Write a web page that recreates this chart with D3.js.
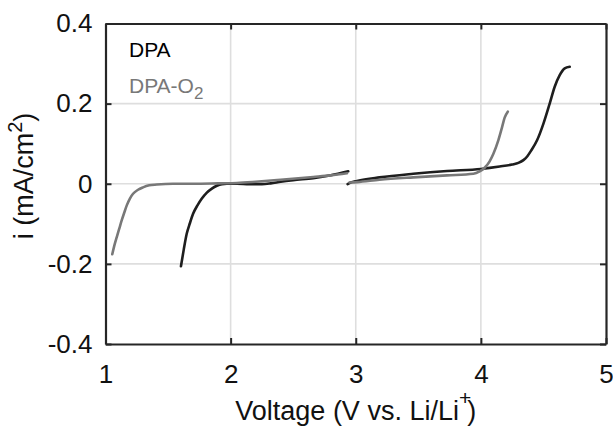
<!DOCTYPE html>
<html>
<head>
<meta charset="utf-8">
<script src="https://cdn.jsdelivr.net/npm/d3@7"></script>
<style>
  body { margin: 0; background: #fff; }
  text { font-family: "Liberation Sans", Arial, sans-serif; }
</style>
</head>
<body>
<div class="chart"></div>
<script>
"use strict";

// tick values / labels
var xTicks = [1, 2, 3, 4, 5];
var xTickLabels = ["1", "2", "3", "4", "5"];
var yTicks = [-0.4, -0.2, 0, 0.2, 0.4];
var yTickLabels = ["-0.4", "-0.2", "0", "0.2", "0.4"];

// DPA, cathodic branch (V, mA/cm2)
var dpaV1 = [1.603, 1.625, 1.649, 1.675, 1.70, 1.735, 1.77, 1.81, 1.85, 1.89, 1.93, 1.97, 2.05, 2.15, 2.25, 2.32, 2.4, 2.5, 2.66, 2.8, 2.94];
var dpaI1 = [-0.206, -0.165, -0.125, -0.098, -0.075, -0.054, -0.037, -0.022, -0.012, -0.005, -0.001, 0.0, 0.0, -0.001, -0.001, 0.001, 0.005, 0.009, 0.014, 0.021, 0.031];
// DPA, anodic branch
var dpaV2 = [2.935, 2.96, 3.01, 3.19, 3.46, 3.73, 4.0, 4.15, 4.25, 4.3, 4.34, 4.37, 4.40, 4.45, 4.50, 4.55, 4.59, 4.63, 4.67, 4.71];
var dpaI2 = [-0.001, 0.003, 0.007, 0.016, 0.025, 0.032, 0.037, 0.043, 0.048, 0.052, 0.059, 0.068, 0.082, 0.109, 0.15, 0.2, 0.242, 0.271, 0.288, 0.292];

// DPA-O2, cathodic branch
var o2V1 = [1.054, 1.07, 1.09, 1.11, 1.13, 1.15, 1.17, 1.195, 1.22, 1.26, 1.30, 1.35, 1.41, 1.54, 1.7, 1.9, 2.05, 2.2, 2.4, 2.66, 2.8, 2.93];
var o2I1 = [-0.176, -0.155, -0.133, -0.112, -0.091, -0.072, -0.054, -0.037, -0.025, -0.015, -0.009, -0.004, -0.002, 0.0, 0.0, 0.001, 0.002, 0.005, 0.01, 0.017, 0.021, 0.026];
// DPA-O2, anodic branch
var o2V2 = [2.95, 3.01, 3.19, 3.46, 3.73, 3.94, 3.99, 4.03, 4.07, 4.10, 4.14, 4.17, 4.19, 4.215];
var o2I2 = [0.003, 0.004, 0.01, 0.016, 0.021, 0.025, 0.031, 0.04, 0.056, 0.075, 0.109, 0.142, 0.165, 0.18];

var series = [
    { name: "DPA", color: "#1e1e1e", parts: [[dpaV1, dpaI1], [dpaV2, dpaI2]] },
    { name: "DPA-O2", color: "#787878", parts: [[o2V1, o2I1], [o2V2, o2I2]] }
];

var width = 613, height = 426;
var plot = { left: 105.5, right: 606, top: 23.5, bottom: 344 };

var svg = d3.select(".chart").append("svg")
    .attr("width", width)
    .attr("height", height);

var x = d3.scaleLinear().domain([1, 5]).range([plot.left, plot.right]);
var y = d3.scaleLinear().domain([-0.4, 0.4]).range([plot.bottom, plot.top]);

// grid
svg.append("g").selectAll("line")
    .data(xTicks.slice(1, -1))
    .enter().append("line")
    .attr("x1", function(d) { return x(d); })
    .attr("x2", function(d) { return x(d); })
    .attr("y1", plot.top).attr("y2", plot.bottom)
    .attr("stroke", "#dedede").attr("stroke-width", 1.6);

svg.append("g").selectAll("line")
    .data(yTicks.slice(1, -1))
    .enter().append("line")
    .attr("y1", function(d) { return y(d); })
    .attr("y2", function(d) { return y(d); })
    .attr("x1", plot.left).attr("x2", plot.right)
    .attr("stroke", "#dedede").attr("stroke-width", 1.6);

// curves
var line = d3.line()
    .x(function(d) { return x(d[0]); })
    .y(function(d) { return y(d[1]); })
    .curve(d3.curveMonotoneX);

series.forEach(function(s) {
    s.parts.forEach(function(p) {
        var pts = p[0].map(function(v, i) { return [v, p[1][i]]; });
        svg.append("path")
            .datum(pts)
            .attr("d", line)
            .attr("fill", "none")
            .attr("stroke", s.color)
            .attr("stroke-width", 2.6)
            .attr("stroke-linecap", "round");
    });
});

// axes with inward ticks, box on all sides
var tickLen = 6;
var fmtX = function(d) { return xTickLabels[xTicks.indexOf(d)]; };
var fmtY = function(d) { return yTickLabels[yTicks.indexOf(d)]; };

var xAxisB = d3.axisBottom(x).tickValues(xTicks).tickSizeInner(-tickLen).tickSizeOuter(0).tickPadding(21).tickFormat(fmtX);
var xAxisT = d3.axisTop(x).tickValues(xTicks).tickSizeInner(-tickLen).tickSizeOuter(0).tickFormat("");
var yAxisL = d3.axisLeft(y).tickValues(yTicks).tickSizeInner(-tickLen).tickSizeOuter(0).tickPadding(13).tickFormat(fmtY);
var yAxisR = d3.axisRight(y).tickValues(yTicks).tickSizeInner(-tickLen).tickSizeOuter(0).tickFormat("");

function styleAxis(g) {
    g.select(".domain").attr("stroke", "#262626").attr("stroke-width", 2.2);
    g.selectAll(".tick line").attr("stroke", "#262626").attr("stroke-width", 2);
    g.selectAll(".tick text").attr("fill", "#111").attr("font-size", "26px")
        .attr("font-family", "'Liberation Sans', Arial, sans-serif");
}

svg.append("g").attr("transform", "translate(0," + plot.bottom + ")").call(xAxisB).call(styleAxis);
svg.append("g").attr("transform", "translate(0," + plot.top + ")").call(xAxisT).call(styleAxis);
svg.append("g").attr("transform", "translate(" + plot.left + ",0)").call(yAxisL).call(styleAxis);
svg.append("g").attr("transform", "translate(" + plot.right + ",0)").call(yAxisR).call(styleAxis);

// axis labels
var xl = svg.append("text")
    .attr("x", (plot.left + plot.right) / 2)
    .attr("y", 420)
    .attr("text-anchor", "middle")
    .attr("font-size", "27px")
    .attr("fill", "#111");
xl.append("tspan").text("Voltage (V vs. Li/Li");
xl.append("tspan").attr("dy", -15).attr("font-size", "21px").text("+");
xl.append("tspan").attr("dy", 15).attr("dx", -4).text(")");

var yl = svg.append("text")
    .attr("transform", "translate(33,176) rotate(-90)")
    .attr("text-anchor", "middle")
    .attr("font-size", "27px")
    .attr("fill", "#111");
yl.append("tspan").text("i (mA/cm");
yl.append("tspan").attr("dy", -11).attr("font-size", "20px").text("2");
yl.append("tspan").attr("dy", 11).text(")");

// legend
var legend = svg.append("g");
legend.append("text")
    .attr("x", 129).attr("y", 57)
    .attr("font-size", "21px").attr("fill", "#000")
    .text("DPA");
var lg2 = legend.append("text")
    .attr("x", 129).attr("y", 93)
    .attr("font-size", "21px").attr("fill", "#787878");
lg2.append("tspan").text("DPA-O");
lg2.append("tspan").attr("dy", 6).attr("font-size", "17px").text("2");
</script>
</body>
</html>
